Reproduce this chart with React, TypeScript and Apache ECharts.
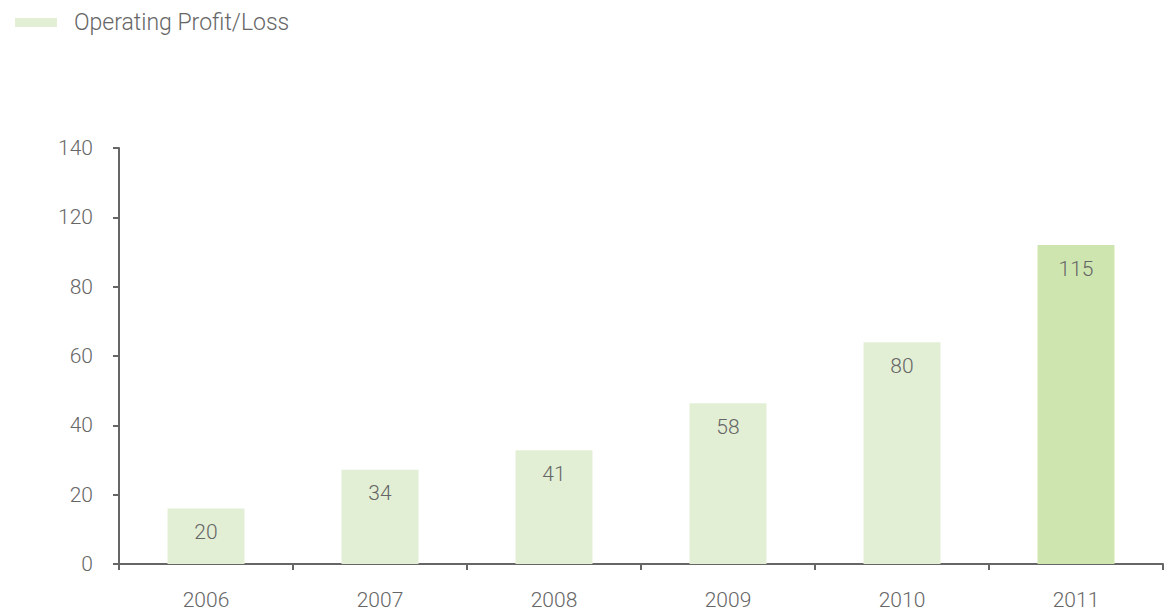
import React, { useEffect, useRef } from "react";
import * as echarts from "echarts";

const categories = ["2006", "2007", "2008", "2009", "2010", "2011"];
const values = [20, 34, 41, 58, 80, 115];
const yTickLabels = ["0", "20", "40", "60", "80", "120", "140"];
const seriesName = "Operating Profit/Loss";
const highlightIndex = 5;

const FONT = "Roboto";
const TEXT = "#666666";
const AXIS = "#666666";
const BAR = "#e3efd5";
const BAR_HI = "#cfe5b0";

export default function App() {
  const ref = useRef<HTMLDivElement>(null);
  useEffect(() => {
    if (!ref.current) return;
    const chart = echarts.init(ref.current, undefined, { renderer: "svg" });
    chart.setOption({
      animation: false,
      legend: {
        data: [seriesName],
        left: 10,
        top: 6,
        itemWidth: 42,
        itemHeight: 9,
        icon: "rect",
        textStyle: {
          fontFamily: FONT,
          fontWeight: 300,
          fontSize: 23,
          color: TEXT,
          padding: [0, 0, 0, 12],
        },
      },
      grid: { left: 119, right: 1, top: 148, bottom: 50 },
      xAxis: {
        type: "category",
        data: categories,
        axisLine: { lineStyle: { color: AXIS, width: 2 } },
        axisTick: { show: true, length: 6, lineStyle: { color: AXIS, width: 2 } },
        axisLabel: {
          margin: 25,
          fontFamily: FONT,
          fontWeight: 300,
          fontSize: 21,
          color: TEXT,
        },
      },
      yAxis: {
        type: "value",
        min: 0,
        max: 150,
        interval: 25,
        splitLine: { show: false },
        axisLine: { show: true, lineStyle: { color: AXIS, width: 2 } },
        axisTick: { show: true, length: 6, lineStyle: { color: AXIS, width: 2 } },
        axisLabel: {
          margin: 26,
          fontFamily: FONT,
          fontWeight: 300,
          fontSize: 21,
          color: TEXT,
          formatter: (v: number) => yTickLabels[Math.round(v / 25)] ?? "",
        },
      },
      series: [
        {
          name: seriesName,
          type: "bar",
          barWidth: 77,
          itemStyle: { color: BAR },
          label: {
            show: true,
            position: "insideTop",
            distance: 13,
            fontFamily: FONT,
            fontWeight: 300,
            fontSize: 21,
            color: TEXT,
          },
          data: values.map((v, i) =>
            i === highlightIndex ? { value: v, itemStyle: { color: BAR_HI } } : v
          ),
        },
      ],
    });
    return () => chart.dispose();
  }, []);
  return <div ref={ref} style={{ width: 1164, height: 614, position: "absolute", left: 0, top: 0 }} />;
}
